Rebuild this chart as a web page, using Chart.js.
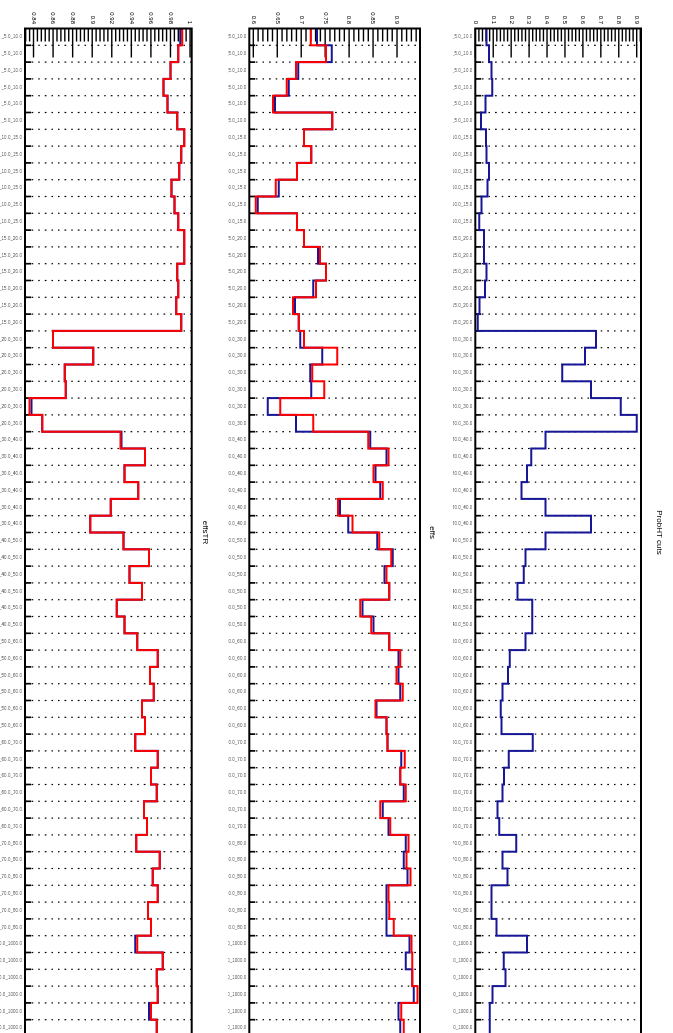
<!DOCTYPE html>
<html><head><meta charset="utf-8">
<script src="https://cdn.jsdelivr.net/npm/chart.js@4/dist/chart.umd.min.js"></script>
<style>
html,body{margin:0;padding:0;background:#fff;overflow:hidden;width:673px;height:1033px;}
#wrap{position:absolute;left:0;top:0;width:1045px;height:673px;transform-origin:0 0;transform:translate(673px,0) rotate(90deg);background:#fff;}
canvas{position:absolute;left:0;}
</style></head><body>
<div id="wrap">
<canvas id="c1" width="1045" height="220" style="top:0px"></canvas>
<canvas id="c2" width="1045" height="225" style="top:220px"></canvas>
<canvas id="c3" width="1045" height="228" style="top:445px"></canvas>
</div>
<script>
// ---- data ----
const ptBins = ["5.0_10.0","10.0_15.0","15.0_20.0","20.0_30.0","30.0_40.0","40.0_50.0","50.0_60.0","60.0_70.0","70.0_80.0","80.0_1000.0"];
const rowsPerBin = 6;

const probHT = [
  0.063,0.076,0.090,0.094,0.057,0.032,
  0.059,0.063,0.076,0.068,0.035,0.022,
  0.048,0.048,0.063,0.054,0.024,0.013,
  0.673,0.612,0.485,0.645,0.811,0.900,
  0.391,0.312,0.288,0.257,0.391,0.645,
  0.391,0.280,0.270,0.235,0.317,0.317,
  0.280,0.192,0.183,0.151,0.142,0.146,
  0.321,0.186,0.160,0.151,0.124,0.133,
  0.229,0.151,0.179,0.090,0.090,0.118,
  0.288,0.159,0.168,0.096,0.081,0.081
];

const effsBlue = [
  0.733,0.764,0.694,0.674,0.645,0.765,
  0.706,0.721,0.691,0.653,0.609,0.691,
  0.706,0.735,0.752,0.725,0.687,0.695,
  0.698,0.744,0.719,0.721,0.630,0.689,
  0.844,0.878,0.855,0.865,0.781,0.798,
  0.859,0.891,0.874,0.884,0.828,0.851,
  0.884,0.903,0.903,0.907,0.857,0.878,
  0.880,0.909,0.907,0.914,0.870,0.882,
  0.918,0.914,0.922,0.878,0.878,0.878,
  0.926,0.918,0.932,0.935,0.903,0.907
];
const effsRed = [
  0.720,0.752,0.689,0.670,0.641,0.765,
  0.706,0.721,0.691,0.647,0.605,0.691,
  0.706,0.739,0.752,0.731,0.683,0.695,
  0.706,0.775,0.723,0.748,0.656,0.725,
  0.840,0.882,0.851,0.870,0.777,0.807,
  0.863,0.888,0.878,0.884,0.823,0.846,
  0.884,0.907,0.899,0.912,0.855,0.878,
  0.880,0.916,0.907,0.918,0.865,0.886,
  0.924,0.920,0.928,0.882,0.884,0.893,
  0.930,0.932,0.932,0.943,0.909,0.914
];

const effsTRBlue = [
  0.990,0.988,0.980,0.973,0.977,0.987,
  0.994,0.991,0.989,0.981,0.984,0.988,
  0.994,0.994,0.987,0.988,0.986,0.991,
  0.860,0.901,0.872,0.873,0.838,0.849,
  0.930,0.954,0.933,0.947,0.919,0.898,
  0.932,0.958,0.938,0.951,0.925,0.933,
  0.946,0.967,0.959,0.963,0.951,0.954,
  0.944,0.967,0.960,0.966,0.953,0.956,
  0.945,0.969,0.962,0.967,0.957,0.960,
  0.944,0.972,0.966,0.967,0.958,0.966
];
const effsTRRed = [
  0.992,0.988,0.980,0.973,0.977,0.987,
  0.994,0.991,0.989,0.981,0.984,0.988,
  0.994,0.994,0.987,0.988,0.986,0.991,
  0.860,0.901,0.872,0.873,0.836,0.849,
  0.929,0.954,0.933,0.947,0.919,0.898,
  0.932,0.958,0.938,0.951,0.925,0.933,
  0.946,0.967,0.959,0.963,0.951,0.954,
  0.944,0.967,0.960,0.966,0.953,0.956,
  0.945,0.969,0.962,0.967,0.957,0.960,
  0.946,0.972,0.966,0.967,0.960,0.966
];

const probTicks = [0,0.1,0.2,0.3,0.4,0.5,0.6,0.7,0.8,0.9];
const probTickLabels = ["0","0.1","0.2","0.3","0.4","0.5","0.6","0.7","0.8","0.9"];
const effsTicks = [0.6,0.65,0.7,0.75,0.8,0.85,0.9];
const effsTickLabels = ["0.6","0.65","0.7","0.75","0.8","0.85","0.9"];
const effsTRTicks = [0.84,0.86,0.88,0.9,0.92,0.94,0.96,0.98,1];
const effsTRTickLabels = ["0.84","0.86","0.88","0.9","0.92","0.94","0.96","0.98","1"];

// ---- build ----
const categories = [];
ptBins.forEach(b => { for (let k = 0; k < rowsPerBin; k++) categories.push("_" + b); });
const N = categories.length;
const FONT = "'Liberation Sans', Arial, sans-serif";
const BLUE = "rgb(22,22,150)";
const RED = "#ff0000";

function stepData(vals) {
  const d = vals.map((v, i) => ({x: i, y: v}));
  d.push({x: vals.length, y: vals[vals.length - 1]});
  return d;
}

function decoPlugin(majors, minorStep) {
  return {
    id: 'deco',
    beforeDatasetsDraw(chart) {
      const {ctx, chartArea: a, scales: {x, y}} = chart;
      ctx.save();
      ctx.strokeStyle = '#000';
      ctx.lineWidth = 1.2;
      ctx.setLineDash([1.6, 5]);
      for (let i = 1; i < N; i++) {
        const px = x.getPixelForValue(i);
        ctx.beginPath(); ctx.moveTo(px, a.bottom); ctx.lineTo(px, a.top); ctx.stroke();
      }
      ctx.setLineDash([]);
      ctx.lineWidth = 1.7;
      for (let i = 1; i < N; i++) {
        const px = x.getPixelForValue(i);
        ctx.beginPath(); ctx.moveTo(px, a.bottom); ctx.lineTo(px, a.bottom - 6); ctx.stroke();
      }
      ctx.lineWidth = 1.4;
      const kmin = Math.ceil(y.min / minorStep - 1e-6), kmax = Math.floor(y.max / minorStep + 1e-6);
      for (let k = kmin; k <= kmax; k++) {
        const v = k * minorStep;
        const isMajor = majors.some(m => Math.abs(m - v) < minorStep / 10);
        const py = y.getPixelForValue(v);
        ctx.beginPath(); ctx.moveTo(a.left, py); ctx.lineTo(a.left + (isMajor ? 29 : 13), py); ctx.stroke();
      }
      ctx.restore();
    },
    afterDraw(chart) {
      const {ctx, chartArea: a} = chart;
      ctx.save();
      ctx.strokeStyle = '#000';
      ctx.lineWidth = 2;
      ctx.strokeRect(a.left, a.top, a.right - a.left, a.bottom - a.top);
      ctx.restore();
    }
  };
}

function makeChart(id, cfg) {
  const datasets = cfg.series.map(s => ({
    data: stepData(s.values), borderColor: s.color, borderWidth: 2,
    pointRadius: 0, fill: false, stepped: 'before', tension: 0
  }));
  return new Chart(document.getElementById(id), {
    type: 'line',
    data: {datasets},
    options: {
      responsive: false, animation: false, devicePixelRatio: 1,
      layout: {padding: {left: 0, right: 8.5, top: 0, bottom: 0}},
      plugins: {
        legend: {display: false}, tooltip: {enabled: false},
        title: {display: true, text: cfg.title, fullSize: false, color: '#000',
          font: {family: FONT, size: 8, weight: 'normal', lineHeight: 1},
          padding: {top: cfg.titlePadTop, bottom: cfg.titlePadBottom}}
      },
      scales: {
        x: {
          type: 'linear', min: 0, max: N,
          afterBuildTicks: s => { s.ticks = categories.map((c, i) => ({value: i + 0.5})); },
          afterFit: s => { s.height = cfg.xHeight; },
          grid: {display: false, drawTicks: false}, border: {display: false},
          ticks: {autoSkip: false, maxRotation: 90, minRotation: 90, padding: 3,
            color: '#444', font: {family: FONT, size: 4.6},
            callback: (v, i) => categories[i]}
        },
        y: {
          type: 'linear', min: cfg.min, max: cfg.max,
          afterBuildTicks: s => { s.ticks = cfg.ticks.map(v => ({value: v})); },
          afterFit: s => { s.width = 28.5; },
          grid: {display: false, drawTicks: false}, border: {display: false},
          ticks: {padding: 4.5, color: '#000', font: {family: FONT, size: 6},
            callback: (v, i) => cfg.tickLabels[i]}
        }
      }
    },
    plugins: [decoPlugin(cfg.ticks, cfg.minorStep)]
  });
}

makeChart('c1', {title: 'ProbHT cuts', titlePadTop: 10, titlePadBottom: 14, xHeight: 22.3,
  min: 0, max: 0.924, ticks: probTicks, tickLabels: probTickLabels, minorStep: 0.02,
  series: [{values: probHT, color: BLUE}]});
makeChart('c2', {title: 'effs', titlePadTop: 17, titlePadBottom: 8, xHeight: 21.3,
  min: 0.5916, max: 0.948, ticks: effsTicks, tickLabels: effsTickLabels, minorStep: 0.01,
  series: [{values: effsRed, color: RED}, {values: effsBlue, color: BLUE}]});
makeChart('c3', {title: 'effsTR', titlePadTop: 19, titlePadBottom: 9.3, xHeight: 25,
  min: 0.8313, max: 1.0017, ticks: effsTRTicks, tickLabels: effsTRTickLabels, minorStep: 0.004,
  series: [{values: effsTRRed, color: RED}, {values: effsTRBlue, color: BLUE}]});
</script>
</body></html>
